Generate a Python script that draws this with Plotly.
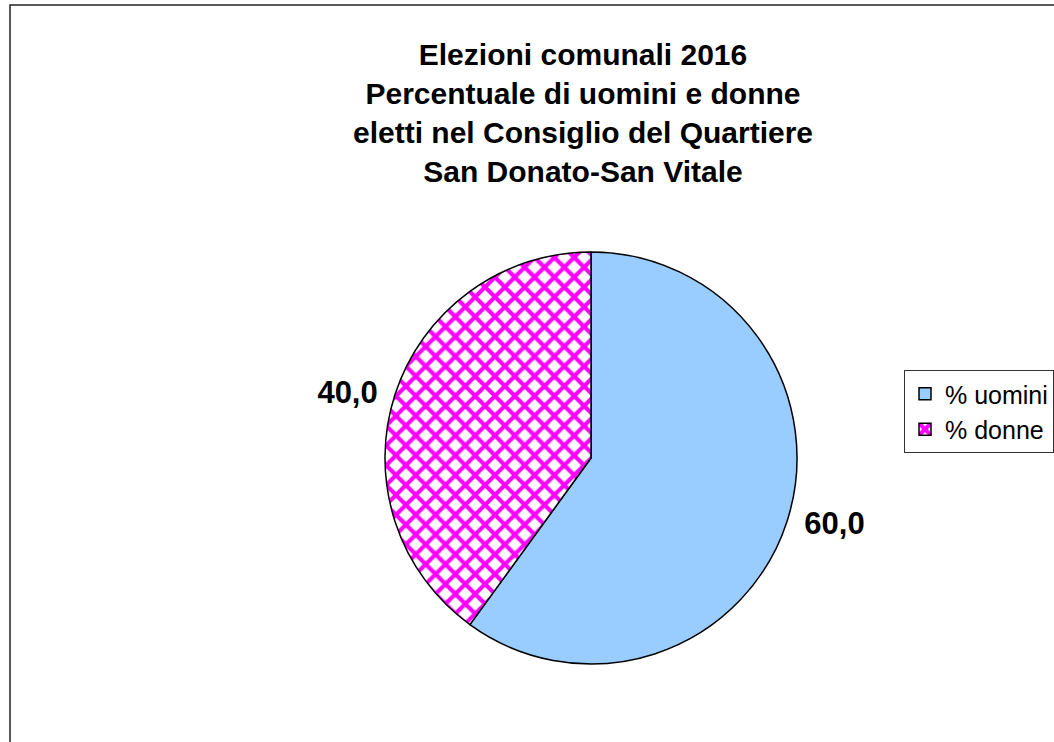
import plotly.graph_objects as go

# Data
labels = ["% uomini", "% donne"]
values = [60.0, 40.0]
title_lines = [
    "Elezioni comunali 2016",
    "Percentuale di uomini e donne",
    "eletti nel Consiglio del Quartiere",
    "San Donato-San Vitale",
]

W, H = 1054, 742
cx, cy, r = 591, 458, 206
NB = "\u00a0"

fig = go.Figure()
fig.add_trace(go.Pie(
    labels=labels,
    values=values,
    sort=False,
    direction="clockwise",
    rotation=0,
    domain=dict(x=[(cx - r) / W, (cx + r) / W],
                y=[(H - cy - r) / H, (H - cy + r) / H]),
    marker=dict(
        colors=["#99CCFF", "#FFFFFF"],
        line=dict(color="#000000", width=1.5),
        pattern=dict(shape=["", "x"], fgcolor=["#99CCFF", "#FF00FF"],
                     bgcolor=["#99CCFF", "#FFFFFF"], size=14, solidity=0.5,
                     fillmode="replace"),
    ),
    textposition="outside",
    texttemplate=[NB + "%{value:.1f}", "%{value:.1f}" + NB],
    textfont=dict(family="Liberation Sans, Arial, sans-serif", size=31,
                  color="#000000", weight="bold"),
    hoverinfo="label+value",
    showlegend=True,
))

fig.update_layout(
    width=W, height=H,
    margin=dict(l=0, r=0, t=0, b=0),
    paper_bgcolor="#FFFFFF",
    plot_bgcolor="#FFFFFF",
    separators=",.",
    title=dict(
        text="<br>".join(title_lines),
        x=583 / W, xanchor="center",
        y=1 - 65 / H, yanchor="top",
        font=dict(family="Liberation Sans, Arial, sans-serif", size=30,
                  color="#000000", weight="bold"),
    ),
    legend=dict(
        x=904 / W, xanchor="left",
        y=1 - 370 / H, yanchor="top",
        bordercolor="#333333", borderwidth=1,
        bgcolor="#FFFFFF",
        font=dict(family="Liberation Sans, Arial, sans-serif", size=25,
                  color="#000000"),
    ),
    shapes=[dict(type="rect", xref="paper", yref="paper",
                 x0=10 / W, x1=1.05, y0=-0.05, y1=1 - 5 / H,
                 line=dict(color="#222222", width=1.5), layer="below")],
    font=dict(family="Liberation Sans, Arial, sans-serif"),
)

fig.write_html("out.html", config={"displayModeBar": False},
               post_script="document.body.style.margin='0';")
